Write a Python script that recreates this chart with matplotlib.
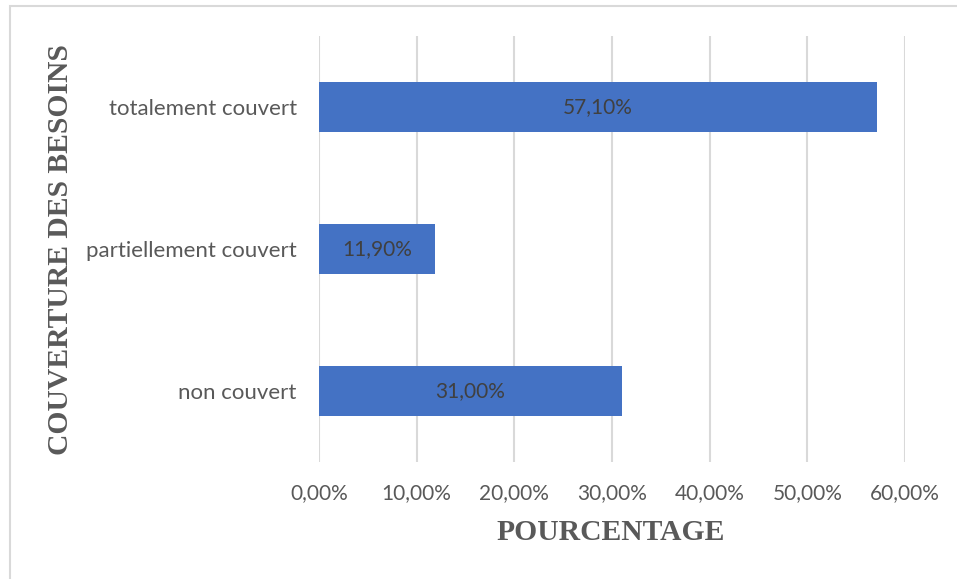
import matplotlib.pyplot as plt

# data
categories = ["non couvert", "partiellement couvert", "totalement couvert"]
values = [31.00, 11.90, 57.10]
xticks = [0, 10, 20, 30, 40, 50, 60]

fig = plt.figure(figsize=(9.57, 5.79), dpi=100)

# light frame round the chart area
fig.patches.append(plt.Rectangle((10 / 957, -0.01), 1.0, 1 - 6 / 579 + 0.01,
                                 transform=fig.transFigure, fill=False,
                                 edgecolor="#d9d9d9", linewidth=1.5))

ax = fig.add_axes([319 / 957, 1 - 462 / 579, 586 / 957, 426 / 579])

bars = ax.barh(range(len(categories)), values, height=0.35, color="#4472C4", zorder=3)

for b, v in zip(bars, values):
    ax.text(b.get_x() + b.get_width() / 2, b.get_y() + b.get_height() / 2,
            f"{v:.2f}%".replace(".", ","), ha="center", va="center",
            fontsize=15, color="#404040", family="Lato", zorder=4)

ax.set_xlim(0, 60)
ax.set_ylim(-0.5, 2.5)
ax.set_xticks(xticks)
ax.set_xticklabels([f"{t:.2f}%".replace(".", ",") for t in xticks],
                   fontsize=15, color="#595959", family="Lato")
ax.set_yticks(range(len(categories)))
ax.set_yticklabels(categories, fontsize=16, color="#595959", family="Lato")
ax.tick_params(length=0)
ax.tick_params(axis="y", pad=16)
ax.tick_params(axis="x", pad=15)

ax.grid(axis="x", color="#d9d9d9", linewidth=1.5, zorder=0)
for s in ax.spines.values():
    s.set_visible(False)

fig.text(611 / 957, 1 - 533 / 579, "POURCENTAGE", ha="center", va="center",
         fontsize=21.3, fontweight="bold", color="#595959", family="Liberation Serif")
fig.text(61 / 957, 1 - 250 / 579, "COUVERTURE DES BESOINS", ha="center", va="center",
         rotation=90, fontsize=21.3, fontweight="bold", color="#595959",
         family="Liberation Serif")

fig.savefig("out.png", dpi=100)
